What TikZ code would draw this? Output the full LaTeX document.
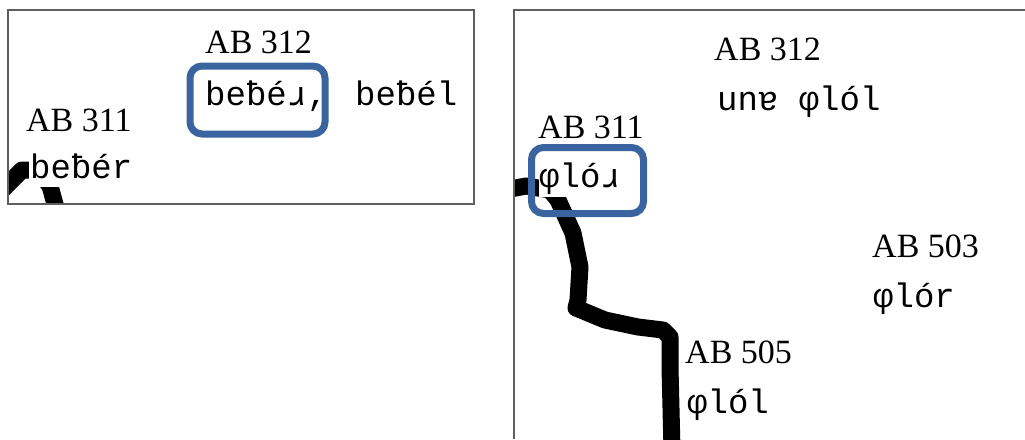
\documentclass[tikz,border=0pt]{standalone}
\usepackage{fontspec}
\setmainfont{Liberation Serif}
\newfontfamily\monof{Liberation Mono}
\definecolor{boxblue}{RGB}{58,100,160}
\definecolor{framegray}{RGB}{95,95,95}
\tikzset{
  lab/.style={anchor=base west, inner sep=0pt, font=\fontsize{34}{40}\selectfont},
  word/.style={anchor=base west, inner sep=0pt, font=\monof\fontsize{34}{40}\selectfont},
  hide/.style={fill=white, text depth=9pt},
  isoline/.style={line width=17pt, line join=round},
  hl/.style={draw=boxblue, line width=7pt, rounded corners=12pt, rectangle, inner sep=0pt},
  panelframe/.style={draw=framegray, line width=1.2pt}
}
\begin{document}
\begin{tikzpicture}[x=1pt,y=-1pt]
\useasboundingbox[fill=white] (0,0) rectangle (1025,439);
% ---- left panel ----
\begin{scope}
  \clip (8,10) rectangle (474,204);
  \draw[isoline] (2,190) -- (22,170) -- (38,170) -- (50,186) -- (58,215);
\end{scope}
\draw[panelframe] (8,10) rectangle (474,204);
\node[lab] (l312) at (205,53) {AB 312};
\node[word] (lw312a) at (205,105) {beƀéɹ,};
\node[word] (lw312b) at (355,105) {beƀél};
\node[lab] (l311) at (26,131) {AB 311};
\node[word, hide, inner xsep=1pt] (lw311) at (29,178) {beƀér};
\node[hl, minimum width=135pt, minimum height=68pt] (lsel) at (257.5,100) {};
% ---- right panel ----
\begin{scope}
  \clip (514,10) rectangle (1025,439);
  \draw[isoline] (505,190) -- (526,186) -- (550,190) -- (558,200) -- (573,233)
    -- (580,267) -- (578,300) -- (576,308) -- (605,320) -- (638,327)
    -- (663,330) -- (670,337) -- (670,367) -- (672,450);
\end{scope}
\draw[panelframe] (1025,10) -- (514,10) -- (514,439);
\node[lab] (r312) at (714,60) {AB 312};
\node[word] (rw312) at (717,110) {unɐ φlól};
\node[lab] (r311) at (538,138) {AB 311};
\node[word, hide, text depth=10pt] (rw311) at (539,187) {φlóɹ};
\node[lab] (r503) at (872,257) {AB 503};
\node[word] (rw503) at (873,307) {φlór};
\node[lab] (r505) at (685,363) {AB 505};
\node[word] (rw505) at (687,413) {φlól};
\node[hl, minimum width=112pt, minimum height=66pt] (rsel) at (587.5,180.5) {};
\end{tikzpicture}
\end{document}
